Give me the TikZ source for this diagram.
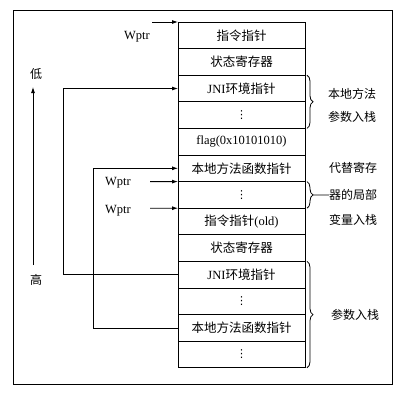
\documentclass[tikz,border=0pt]{standalone}
\usepackage{fontspec}
\setmainfont{Liberation Serif}
\newfontfamily\cjk{Noto Sans CJK SC}
\newfontfamily\dejavu{DejaVu Sans}
\usetikzlibrary{arrows.meta,decorations.pathreplacing}
\newcommand{\zh}[1]{{\cjk #1}}
\newcommand{\vdt}{{\dejavu\fontsize{11}{12}\selectfont ⋮}}
\begin{document}
\begin{tikzpicture}[x=1pt,y=-1pt,
  every node/.style={font=\fontsize{12.5}{14}\selectfont, inner sep=0pt},
  cell/.style={minimum width=125pt, minimum height=24pt, outer sep=0pt},
  conn/.style={line width=0.8pt, -{Latex[length=6pt,width=4pt]}},
  bracestyle/.style={line width=0.8pt, decorate, decoration={brace, amplitude=6pt, raise=2pt}},
  side/.style={font=\fontsize{12}{14}\selectfont\cjk}]
\useasboundingbox (0,0) rectangle (407,400);
\draw[line width=0.7pt] (13,10) rectangle (392,384);
% stack cells
\foreach \k/\t in {1/\zh{指令指针},2/\zh{状态寄存器},3/{JNI\zh{环境指针}},4/\vdt,
  5/{flag(0x10101010)},6/\zh{本地方法函数指针},7/\vdt,8/{\zh{指令指针}(old)},
  9/\zh{状态寄存器},10/{JNI\zh{环境指针}},11/\vdt,12/\zh{本地方法函数指针},13/\vdt}
  \node[cell] (r\k) at (241.5,{22+26.6*(\k-0.5)}) {\t};
% cell boundaries
\foreach \k in {0,...,13} {
  \coordinate (bl\k) at (178,{22+26.6*\k});
  \coordinate (br\k) at (305,{22+26.6*\k});
  \draw[line width=0.8pt] (bl\k) -- (br\k);
}
\draw[line width=0.8pt] (bl0) -- (bl13) (br0) -- (br13);
% Wptr pointers
\node (wl1) at (137,37) {Wptr};
\node (wl2) at (118,183) {Wptr};
\node (wl3) at (118,211) {Wptr};
\coordinate (ws1) at (152,22);
\coordinate (ws2) at (150,181.6);
\coordinate (ws3) at (150,208.2);
\draw[conn] (ws1) -- (bl0);
\draw[conn] (ws2) -- (bl6);
\draw[conn] (ws3) -- (bl7);
% links
\coordinate (l10) at (178,{22+26.6*9.5});
\coordinate (l3) at (178,{22+26.6*2.5});
\coordinate (l12) at (178,{22+26.6*11.5});
\coordinate (l6) at (178,{22+26.6*5.5});
\draw[conn] (l10) -- ++(-115,0) |- (l3);
\draw[conn] (l12) -- ++(-85,0) |- (l6);
% axis
\coordinate (ab) at (33,265);
\coordinate (at) at (33,87);
\draw[conn] (ab) -- (at);
\node[side] (lo) at (36,74) {低};
\node[side] (hi) at (36,280) {高};
% braces
\draw[bracestyle] (br2) -- (br4);
\draw[bracestyle] (br6) -- (br7);
\draw[bracestyle] (br9) -- (br13);
\node[side] (b1a) at (352,94) {本地方法};
\node[side] (b1b) at (352,117) {参数入栈};
\node[side] (b2a) at (353,168) {代替寄存};
\node[side] (b2b) at (353,195) {器的局部};
\node[side] (b2c) at (353,220) {变量入栈};
\node[side] (b3) at (355,315) {参数入栈};
\coordinate (bt2) at (313,194.9);
\draw[line width=0.8pt] (bt2) -- (b2b.west);
\end{tikzpicture}
\end{document}
